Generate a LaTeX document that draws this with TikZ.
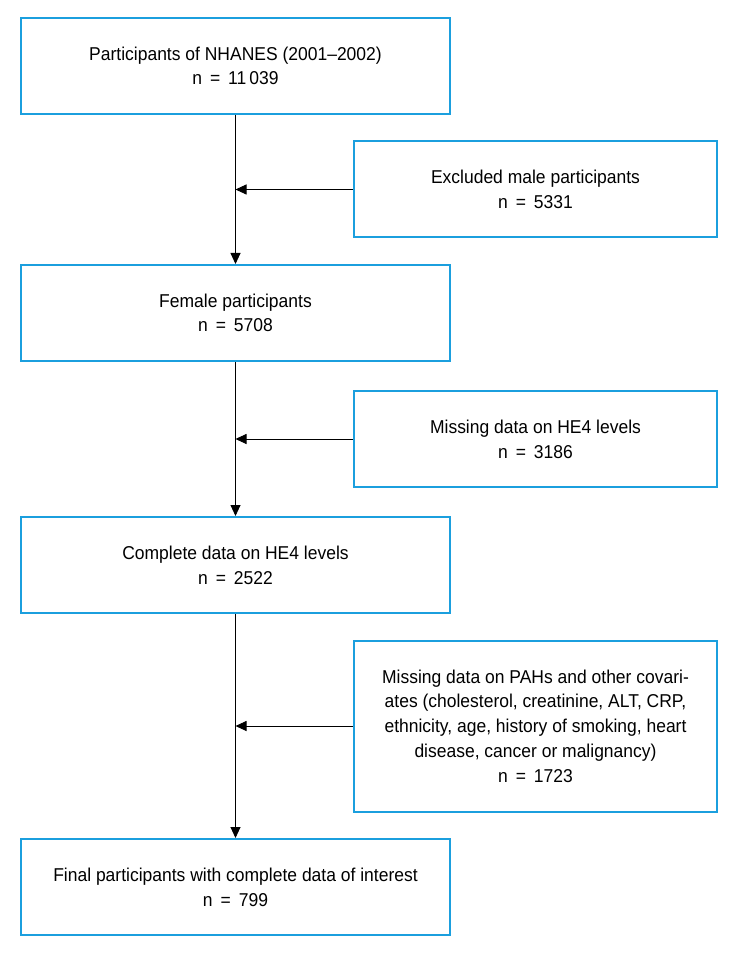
\documentclass[tikz,border=0pt]{standalone}
\usepackage{fontspec}
\setmainfont[FakeStretch=0.94]{Liberation Sans}
\usetikzlibrary{arrows.meta,positioning,calc}
\definecolor{boxblue}{RGB}{27,159,222}

\begin{document}
\begin{tikzpicture}[font=\fontsize{18.6pt}{24.7pt}\selectfont,
  mainbox/.style={draw=boxblue,line width=2pt,fill=white,align=center,minimum width=429pt,minimum height=96pt,inner sep=0pt},
  sidebox/.style={draw=boxblue,line width=2pt,fill=white,align=center,minimum width=363pt,minimum height=96pt,inner sep=0pt},
  flow/.style={-{Triangle[length=11pt,width=10pt]},line width=0.9pt,black}]
\useasboundingbox (0,0) rectangle (739pt,-957pt);
\node[mainbox] (all) at (235.5pt,-66pt) {Participants of NHANES (2001--2002)\\n \,=\, 11\,039};
\node[mainbox,below=149pt of all] (female) {Female participants\\n \,=\, 5708};
\node[mainbox,below=154pt of female] (complete) {Complete data on HE4 levels\\n \,=\, 2522};
\node[mainbox,below=224pt of complete] (final) {Final participants with complete data of interest\\n \,=\, 799};
\node[sidebox] (male) at ($(all.south)!0.5!(female.north)+(300pt,0)$) {Excluded male participants\\n \,=\, 5331};
\node[sidebox] (nohe) at ($(female.south)!0.5!(complete.north)+(300pt,0)$) {Missing data on HE4 levels\\n \,=\, 3186};
\node[sidebox,minimum height=171pt] (nocov) at ($(complete.south)!0.5!(final.north)+(300pt,0)$) {Missing data on PAHs and other covari-\\ates (cholesterol, creatinine, ALT, CRP,\\ethnicity, age, history of smoking, heart\\disease, cancer or malignancy)\\n \,=\, 1723};
% main flow
\draw[flow] (all) -- (female);
\draw[flow] (female) -- (complete);
\draw[flow] (complete) -- (final);
% exclusions
\draw[flow] (male.west) -- (male.west -| all.south);
\draw[flow] (nohe.west) -- (nohe.west -| female.south);
\draw[flow] (nocov.west) -- (nocov.west -| complete.south);
\end{tikzpicture}
\end{document}
